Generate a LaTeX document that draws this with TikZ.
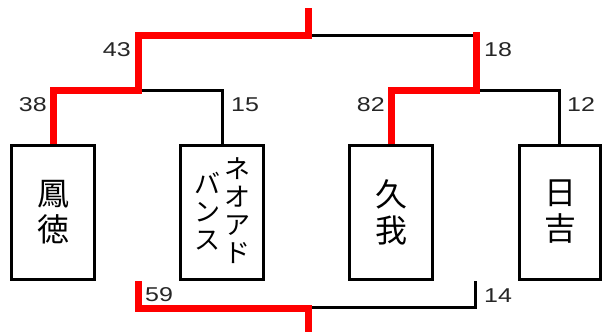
\documentclass[tikz,border=0pt]{standalone}
\usepackage{fontspec}
\setmainfont{Noto Sans CJK JP}
\newfontfamily\numfont{Liberation Sans}
\definecolor{winred}{RGB}{255,0,0}
\newcommand{\wdig}[1]{\scalebox{1.25}[1]{#1}}
\begin{document}
\begin{tikzpicture}[x=1pt,y=-1pt,
  team/.style={draw=black, line width=3pt, minimum width=83pt, minimum height=134pt, inner sep=0pt},
  wide/.style={minimum width=81pt},
  winline/.style={draw=winred, line width=7pt},
  loseline/.style={draw=black, line width=3pt},
  score/.style={font=\numfont\fontsize{20}{20}\selectfont, inner sep=0pt, text=black!85},
  kanji/.style={font=\fontsize{32}{36}\selectfont, align=center, inner sep=0pt},
  kana/.style={font=\fontsize{26}{28}\selectfont, align=center, inner sep=0pt}]
\useasboundingbox (0,0) rectangle (602,332);

% team boxes
\node[team] (b1) at (53,212.5) {};
\node[team] (b2) at (222,212.5) {};
\node[team] (b3) at (391,212.5) {};
\node[team, wide] (b4) at (559.5,212.5) {};

% team names
\node[kanji] (t1) at (53,212) {鳳\\徳};
\node[kana] (t2a) at (237,211) {ネ\\オ\\ア\\ド};
\node[kana] (t2b) at (207,211.5) {バ\\ン\\ス};
\node[kanji] (t3) at (391,212) {久\\我};
\node[kanji] (t4) at (560,212) {日\\吉};

% junction coordinates
\coordinate (top) at (308,8);
\coordinate (jt) at (308,35);
\coordinate (jl) at (138,90);
\coordinate (jr) at (476,90);
\coordinate (l1) at (138,281);
\coordinate (l2) at (138,308);
\coordinate (jb) at (308,308);
\coordinate (bot) at (308,332);
\coordinate (r1) at (475.5,281);
\coordinate (r2) at (475.5,307);

% losing lines (black)
\draw[loseline] (jl) -| (b2.north);
\draw[loseline] (jr) -| (b4.north);
\draw[loseline] (jt) -- (476,35);
\draw[loseline] (jb |- r2) -- (r2) -- (r1);

% winning lines (red)
\draw[winline] (b1.north) |- (jl) |- (jt) -- (top);
\draw[winline] (b3.north) |- (jr) -- (476,32);
\draw[winline] (l1) -- (l2) -- (jb) -- (bot);

% scores
\node[score, anchor=east] (s43) at (131,50) {\wdig{43}};
\node[score, anchor=east] (s38) at (47,104.5) {\wdig{38}};
\node[score, anchor=west] (s15) at (231,104.5) {\wdig{15}};
\node[score, anchor=east] (s82) at (385,104.5) {\wdig{82}};
\node[score, anchor=west] (s18) at (484,50) {\wdig{18}};
\node[score, anchor=west] (s12) at (567,104.5) {\wdig{12}};
\node[score, anchor=west] (s59) at (145,295) {\wdig{59}};
\node[score, anchor=west] (s14) at (484,295.5) {\wdig{14}};
\end{tikzpicture}
\end{document}
